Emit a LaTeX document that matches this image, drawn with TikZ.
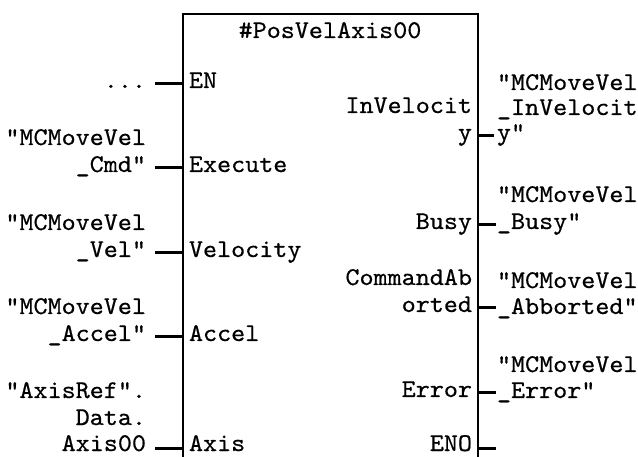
\documentclass[tikz,border=0pt]{standalone}
\usepackage{fontspec}
\newfontfamily\pinfont{lmmono10-regular}[Extension=.otf,FakeBold=0.5,FakeStretch=1.05]
\begin{document}
\begin{tikzpicture}[x=1pt,y=-1pt,
  boxline/.style={line width=1.4pt,black},
  pin/.style={line width=3pt,black},
  txt/.style={font=\pinfont\fontsize{25.5}{27}\selectfont,inner sep=0pt,outer sep=0pt},
  lout/.style={txt,anchor=base east},
  lin/.style={txt,anchor=base west},
  rin/.style={txt,anchor=base east},
  rout/.style={txt,anchor=base west},
  bottomrow/.style={text depth=0pt}]
\useasboundingbox (0,0) rectangle (638,457);
\fill[white] (0,0) rectangle (638,457);
\begin{scope}
\clip (0,0) rectangle (638,457);
% block outline (open towards the bottom)
\coordinate (bl) at (183,460);
\coordinate (tl) at (183,14);
\coordinate (tr) at (478,14);
\coordinate (br) at (478,460);
\draw[boxline] (bl) -- (tl) -- (tr) -- (br);
\end{scope}
\node[txt,anchor=base] (title) at (330,38) {\#PosVelAxis00};

% ---- left pins ----
\coordinate (enA) at (155,84);   \coordinate (enB) at (183,84);
\coordinate (exA) at (155,168);  \coordinate (exB) at (183,168);
\coordinate (veA) at (155,253);  \coordinate (veB) at (183,253);
\coordinate (acA) at (155,337);  \coordinate (acB) at (183,337);
\coordinate (axA) at (155,448);  \coordinate (axB) at (183,448);
\foreach \p in {en,ex,ve,ac,ax} \draw[pin] (\p A) -- (\p B);

\node[lout] (enO) at (146,88) {...};
\node[lout] (exO1) at (146,145) {"MCMoveVel};
\node[lout] (exO2) at (146,172) {\_Cmd"};
\node[lout] (veO1) at (146,230) {"MCMoveVel};
\node[lout] (veO2) at (146,257) {\_Vel"};
\node[lout] (acO1) at (146,314) {"MCMoveVel};
\node[lout] (acO2) at (146,341) {\_Accel"};
\node[lout] (axO1) at (146,398) {"AxisRef".};
\node[lout] (axO2) at (146,425) {Data.};
\node[lout,bottomrow] (axO3) at (146,451) {Axis00};

\node[lin] (enI) at (189,88) {EN};
\node[lin] (exI) at (189,172) {Execute};
\node[lin] (veI) at (189,257) {Velocity};
\node[lin] (acI) at (189,341) {Accel};
\node[lin,bottomrow] (axI) at (189,451) {Axis};

% ---- right pins ----
\coordinate (ivA) at (478,136);  \coordinate (ivB) at (494,136);
\coordinate (buA) at (478,225);  \coordinate (buB) at (496,225);
\coordinate (caA) at (478,308);  \coordinate (caB) at (496,308);
\coordinate (erA) at (478,393);  \coordinate (erB) at (496,393);
\coordinate (enoA) at (478,448); \coordinate (enoB) at (496,448);
\foreach \p in {iv,bu,ca,er,eno} \draw[pin] (\p A) -- (\p B);

\node[rin] (ivI1) at (472,113) {InVelocit};
\node[rin] (ivI2) at (472,140) {y};
\node[rin] (buI) at (472,229) {Busy};
\node[rin] (caI1) at (472,285) {CommandAb};
\node[rin] (caI2) at (472,312) {orted};
\node[rin] (erI) at (472,397) {Error};
\node[rin,bottomrow] (enoI) at (472,451) {ENO};

\node[rout] (ivO1) at (497,90) {"MCMoveVel};
\node[rout] (ivO2) at (497,115) {\_InVelocit};
\node[rout] (ivO3) at (497,140) {y"};
\node[rout] (buO1) at (497,202) {"MCMoveVel};
\node[rout] (buO2) at (497,229) {\_Busy"};
\node[rout] (caO1) at (497,288) {"MCMoveVel};
\node[rout] (caO2) at (497,314) {\_Abborted"};
\node[rout] (erO1) at (497,372) {"MCMoveVel};
\node[rout] (erO2) at (497,398) {\_Error"};
\end{tikzpicture}
\end{document}
